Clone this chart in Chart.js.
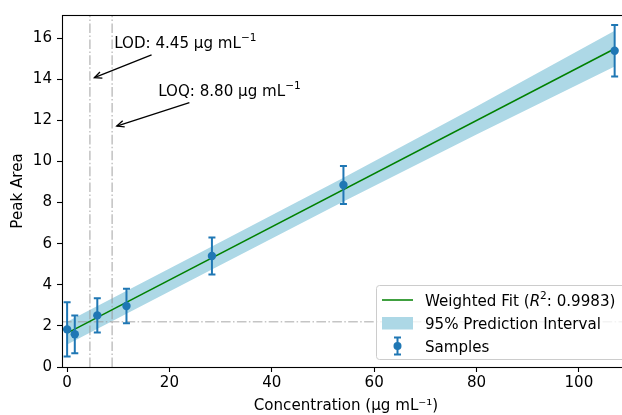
<!DOCTYPE html>
<html><head><meta charset="utf-8">
<script src="https://cdn.jsdelivr.net/npm/chart.js@4.4.1/dist/chart.umd.min.js"></script>
<style>
html,body{margin:0;padding:0;background:#fff;overflow:hidden}
#wrap{width:622px;height:415px;overflow:hidden;position:relative;background:#fff}
canvas{display:block}
</style></head>
<body><div id="wrap"><canvas id="c" width="640" height="415"></canvas></div>
<script>
// ---- data ----
const sampleX = [0, 1.5, 5.9, 11.6, 28.3, 54.0, 107.0];
const sampleY = [1.83, 1.59, 2.51, 2.97, 5.40, 8.85, 15.38];
const sampleErr = [1.32, 0.92, 0.83, 0.84, 0.90, 0.92, 1.25];

const fitX = [0, 107];
const fitY = [1.65, 15.48];

const bandX = [0, 28, 54, 80, 107];
const bandUpper = [2.20, 5.83, 9.21, 12.67, 16.35];
const bandLower = [1.10, 4.71, 8.05, 11.31, 14.61];

const LOD = 4.45;
const LOQ = 8.80;
const thresholdY = 2.20;

const xTicks = [0, 20, 40, 60, 80, 100];
const yTicks = [0, 2, 4, 6, 8, 10, 12, 14, 16];
const xRange = [-1, 110];
const yRange = [0, 17.12];

// annotations: text anchor (data), arrow tail (data), arrow head (data)
const annLabels = [["LOD: 4.45 μg mL", "−1"], ["LOQ: 8.80 μg mL", "−1"]];
const annTextX = [9.2, 17.8];
const annTextY = [15.8, 13.47];
const annTailX = [16.5, 23.9];
const annTailY = [15.18, 12.86];
const annHeadX = [5.33, 9.7];
const annHeadY = [14.07, 11.72];

const legendLabels = ["Weighted Fit (R²: 0.9983)", "95% Prediction Interval", "Samples"];
const r2Text = "0.9983";

// ---- helpers ----
const FONT = "'DejaVu Sans', sans-serif";
const FS = 15.1;
const BLUE = '#1f77b4';
const BAND = '#add8e6';
const GRAY = 'rgba(150,150,150,0.55)';

function pts(xs, ys){ return xs.map((x,i)=>({x:x, y:ys[i]})); }

function drawRich(ctx, segs, x, y){
  let cx = x;
  segs.forEach(s=>{
    const size = s.sup ? FS*0.7 : FS;
    ctx.font = (s.it ? 'italic ' : '') + size + 'px ' + FONT;
    const dy = s.sup ? -FS*0.42 : 0;
    ctx.fillText(s.t, cx, y + dy);
    cx += ctx.measureText(s.t).width;
  });
  return cx;
}

function errorBar(ctx, x, yTop, yBot, cap){
  ctx.beginPath();
  ctx.moveTo(x, yTop); ctx.lineTo(x, yBot);
  ctx.moveTo(x-cap, yTop); ctx.lineTo(x+cap, yTop);
  ctx.moveTo(x-cap, yBot); ctx.lineTo(x+cap, yBot);
  ctx.stroke();
}

const errorBarPlugin = {
  id: 'errorBars',
  beforeDatasetDraw(chart, args){
    if (args.meta.label !== 'Samples') return;
    const {ctx, scales:{x, y}} = chart;
    ctx.save();
    ctx.strokeStyle = BLUE;
    ctx.lineWidth = 2;
    sampleX.forEach((v,i)=>{
      const px = x.getPixelForValue(v);
      errorBar(ctx, px, y.getPixelForValue(sampleY[i]+sampleErr[i]), y.getPixelForValue(sampleY[i]-sampleErr[i]), 3.5);
    });
    ctx.restore();
  }
};

const framePlugin = {
  id: 'frameAndAnnotations',
  afterDatasetsDraw(chart){
    const {ctx, chartArea:a, scales:{x, y}} = chart;
    ctx.save();
    ctx.strokeStyle = '#000';
    ctx.lineWidth = 1.1;
    ctx.strokeRect(Math.round(a.left)+0.5, Math.round(a.top)+0.5, Math.round(a.right-a.left), Math.round(a.bottom-a.top));
    ctx.fillStyle = '#000';
    ctx.textBaseline = 'alphabetic';
    ctx.textAlign = 'left';
    annLabels.forEach((lab,i)=>{
      const tx = x.getPixelForValue(annTextX[i]);
      const ty = y.getPixelForValue(annTextY[i]) + FS*0.365;
      drawRich(ctx, [{t:lab[0]},{t:lab[1], sup:true}], tx, ty);
      const x0 = x.getPixelForValue(annTailX[i]), y0 = y.getPixelForValue(annTailY[i]);
      const x1 = x.getPixelForValue(annHeadX[i]), y1 = y.getPixelForValue(annHeadY[i]);
      ctx.strokeStyle = '#000'; ctx.lineWidth = 1.3;
      ctx.beginPath(); ctx.moveTo(x0,y0); ctx.lineTo(x1,y1); ctx.stroke();
      const ang = Math.atan2(y1-y0, x1-x0), L = 8, w = 0.42;
      ctx.beginPath();
      ctx.moveTo(x1 - L*Math.cos(ang-w), y1 - L*Math.sin(ang-w));
      ctx.lineTo(x1, y1);
      ctx.lineTo(x1 - L*Math.cos(ang+w), y1 - L*Math.sin(ang+w));
      ctx.stroke();
    });
    ctx.restore();
  },
  afterDraw(chart){
    const ctx = chart.ctx;
    ctx.save();
    const lx = 376.5, ly = 285.5, lw = 250, lh = 74, r = 3;
    ctx.beginPath();
    ctx.moveTo(lx+r, ly); ctx.lineTo(lx+lw-r, ly); ctx.quadraticCurveTo(lx+lw, ly, lx+lw, ly+r);
    ctx.lineTo(lx+lw, ly+lh-r); ctx.quadraticCurveTo(lx+lw, ly+lh, lx+lw-r, ly+lh);
    ctx.lineTo(lx+r, ly+lh); ctx.quadraticCurveTo(lx, ly+lh, lx, ly+lh-r);
    ctx.lineTo(lx, ly+r); ctx.quadraticCurveTo(lx, ly, lx+r, ly);
    ctx.closePath();
    ctx.fillStyle = 'rgba(255,255,255,0.8)';
    ctx.fill();
    ctx.strokeStyle = '#cccccc'; ctx.lineWidth = 1;
    ctx.stroke();
    ctx.strokeStyle = 'green'; ctx.lineWidth = 1.5;
    ctx.beginPath(); ctx.moveTo(382, 300); ctx.lineTo(413, 300); ctx.stroke();
    ctx.fillStyle = BAND; ctx.fillRect(382, 317, 31, 12.5);
    ctx.strokeStyle = BLUE; ctx.lineWidth = 2;
    errorBar(ctx, 397.5, 337.5, 354.5, 3.5);
    ctx.fillStyle = BLUE; ctx.beginPath(); ctx.arc(397.5, 346, 4, 0, Math.PI*2); ctx.fill();
    ctx.fillStyle = '#000'; ctx.textBaseline = 'alphabetic'; ctx.textAlign = 'left';
    const off = FS*0.365;
    drawRich(ctx, [{t:'Weighted Fit ('},{t:'R', it:true},{t:'2', sup:true},{t:': ' + r2Text + ')'}], 425, 300 + off);
    drawRich(ctx, [{t:legendLabels[1]}], 425, 323 + off);
    drawRich(ctx, [{t:legendLabels[2]}], 425, 346 + off);
    ctx.restore();
  }
};

const dash = [9.6, 2.4, 1.5, 2.4];

new Chart(document.getElementById('c'), {
  type: 'scatter',
  data: {
    datasets: [
      { label: 'bandUpper', data: pts(bandX, bandUpper), showLine: true, pointRadius: 0, borderWidth: 0, borderColor: 'rgba(0,0,0,0)', fill: false, order: 5 },
      { label: '95% Prediction Interval', data: pts(bandX, bandLower), showLine: true, pointRadius: 0, borderWidth: 0, borderColor: 'rgba(0,0,0,0)', backgroundColor: BAND, fill: '-1', order: 5 },
      { label: 'threshold', data: pts(xRange, [thresholdY, thresholdY]), showLine: true, pointRadius: 0, borderWidth: 1.6, borderColor: GRAY, borderDash: dash, order: 3 },
      { label: 'LOD', data: pts([LOD, LOD], yRange), showLine: true, pointRadius: 0, borderWidth: 1.6, borderColor: GRAY, borderDash: dash, order: 3 },
      { label: 'LOQ', data: pts([LOQ, LOQ], yRange), showLine: true, pointRadius: 0, borderWidth: 1.6, borderColor: GRAY, borderDash: dash, order: 3 },
      { label: 'Weighted Fit', data: pts(fitX, fitY), showLine: true, pointRadius: 0, borderWidth: 1.5, borderColor: 'green', order: 2 },
      { label: 'Samples', data: pts(sampleX, sampleY), showLine: false, pointRadius: 4.2, pointBackgroundColor: BLUE, pointBorderWidth: 0, borderColor: BLUE, backgroundColor: BLUE, order: 0 }
    ]
  },
  options: {
    responsive: false,
    animation: false,
    devicePixelRatio: 1,
    events: [],
    layout: { padding: { top: 15, right: 10, left: 0, bottom: 0 } },
    plugins: { legend: { display: false }, tooltip: { enabled: false } },
    scales: {
      x: {
        type: 'linear', min: xRange[0], max: xRange[1],
        afterBuildTicks: s => { s.ticks = xTicks.map(v => ({value: v})); },
        afterFit: s => { s.height = 48; },
        grid: { drawOnChartArea: false, drawTicks: true, tickLength: 5, tickColor: '#000', tickWidth: 1.1 },
        border: { display: false },
        ticks: { color: '#000', font: { family: FONT, size: FS }, padding: 2, maxRotation: 0, callback: v => String(v) },
        title: { display: true, text: 'Concentration (μg mL⁻¹)', color: '#000', font: { family: FONT, size: FS }, padding: { top: 0, bottom: 0 } }
      },
      y: {
        type: 'linear', min: yRange[0], max: yRange[1],
        afterBuildTicks: s => { s.ticks = yTicks.map(v => ({value: v})); },
        afterFit: s => { s.width = 62; },
        grid: { drawOnChartArea: false, drawTicks: true, tickLength: 5, tickColor: '#000', tickWidth: 1.1 },
        border: { display: false },
        ticks: { color: '#000', font: { family: FONT, size: FS }, padding: 5, callback: v => String(v) },
        title: { display: true, text: 'Peak Area', color: '#000', font: { family: FONT, size: FS }, padding: { top: 9, bottom: 0 } }
      }
    }
  },
  plugins: [errorBarPlugin, framePlugin]
});
</script>
</body></html>
